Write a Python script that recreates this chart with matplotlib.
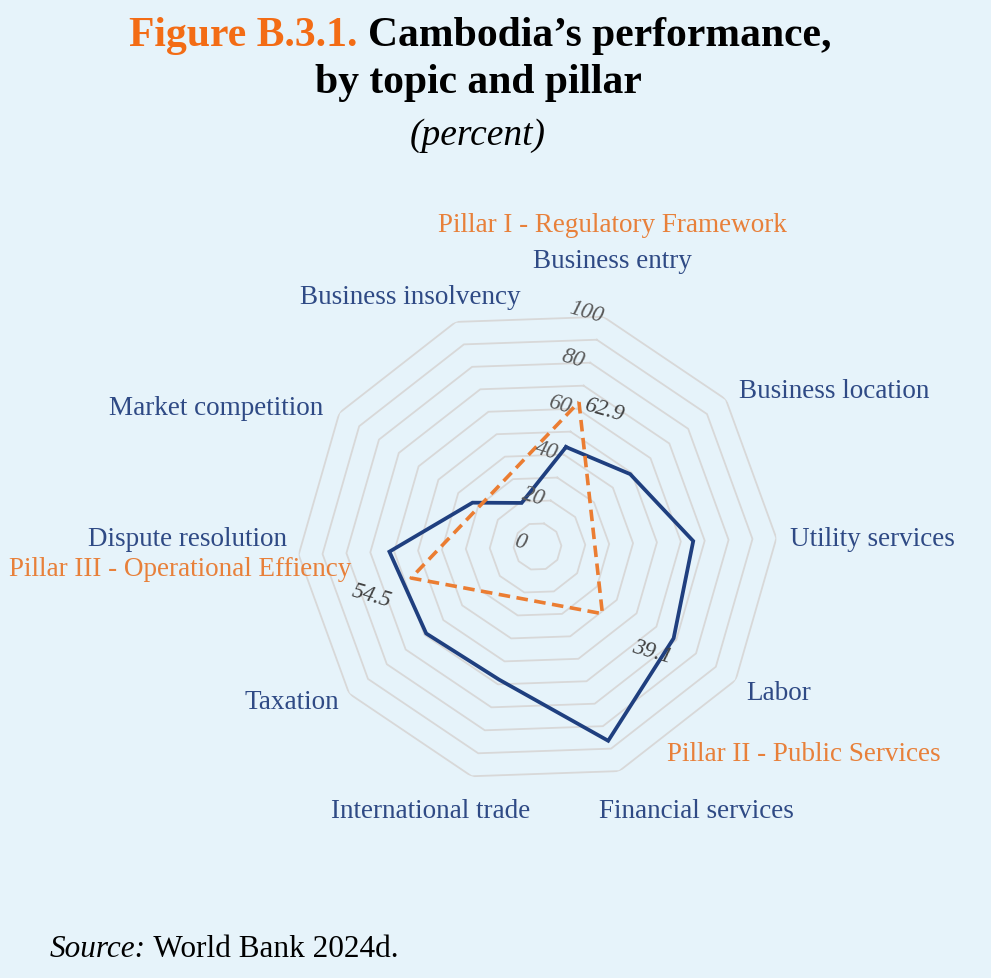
import numpy as np
import matplotlib
matplotlib.use("Agg")
import matplotlib.pyplot as plt
from matplotlib.transforms import offset_copy

# ---------------- data ----------------
topics = ["Business entry", "Business location", "Utility services", "Labor",
          "Financial services", "International trade", "Taxation",
          "Dispute resolution", "Market competition", "Business insolvency"]
topic_values = [43.3, 49.2, 65.2, 68.7, 86.5, 58.0, 59.1, 62.0, 32.8, 19.4]

pillars = ["Pillar I - Regulatory Framework", "Pillar II - Public Services",
           "Pillar III - Operational Effiency"]
pillar_values = [62.9, 39.1, 54.5]
pillar_labels = ["62.9", "39.1", "54.5"]

radial_ticks = [0, 20, 40, 60, 80, 100]
grid_levels = [10, 20, 30, 40, 50, 60, 70, 80, 90, 100]

# ---------------- style ----------------
BG = "#E6F3FA"
BLUE_LINE = "#1F3F7F"
BLUE_TXT = "#2F4A85"
ORANGE_LINE = "#EB7D32"
ORANGE_TXT = "#E8803A"
TITLE_ORANGE = "#F36C15"
GRID = "#D8D8D8"
SERIF = ["Liberation Serif", "DejaVu Serif"]

W, H = 991, 979
fig = plt.figure(figsize=(W / 100, H / 100), dpi=100, facecolor=BG)

cx, cy, R = 537.5, 547.5, 239.0
ax = fig.add_axes([(cx - R) / W, (H - cy - R) / H, 2 * R / W, 2 * R / H],
                  projection="polar")
ax.set_facecolor("none")
ax.set_theta_zero_location("N", offset=-16)
ax.set_theta_direction(-1)
ax.set_ylim(0, 100)
ax.grid(False)
ax.set_xticks([])
ax.set_yticks([])
ax.spines["polar"].set_visible(False)

n = len(topics)
th = np.linspace(0, 2 * np.pi, n, endpoint=False)
th_c = np.append(th, th[0])

for lv in grid_levels:
    ax.plot(th_c, [lv] * (n + 1), color=GRID, lw=1.3, zorder=1)

vals = np.array(topic_values)
ax.plot(th_c, np.append(vals, vals[0]), color=BLUE_LINE, lw=2.7, zorder=3,
        solid_joinstyle="miter")

m = len(pillars)
tp = np.linspace(0, 2 * np.pi, m, endpoint=False)
tp_c = np.append(tp, tp[0])
pv = np.array(pillar_values)
ax.plot(tp_c, np.append(pv, pv[0]), color=ORANGE_LINE, lw=2.6, zorder=4,
        linestyle=(0, (3.2, 1.8)))

# radial tick labels along first axis, offset to the left
tr = offset_copy(ax.transData, fig=fig, x=-17.3, y=5.0, units="dots")
for t in radial_ticks:
    ax.text(0, t, str(t), transform=tr, ha="center", va="center",
            rotation=-16, fontsize=16.5, style="italic", color="#595959",
            family=SERIF, zorder=5)

# data labels of pillar series (placed as in reference)
pl_pos = [(604, 410), (652, 652), (372, 596)]
for (px, py), lab in zip(pl_pos, pillar_labels):
    fig.text(px / W, 1 - py / H, lab, ha="center", va="center", rotation=-16,
             fontsize=16.5, style="italic", color="#404040", family=SERIF)

# category labels
topic_pos = [(612, 261), (834, 391), (872, 539), (779, 694), (696, 811),
             (431, 811), (292, 703), (187, 539), (216, 409), (410, 298)]
for (px, py), lab in zip(topic_pos, topics):
    fig.text(px / W, 1 - py / H, lab, ha="center", va="center",
             fontsize=19.5, color=BLUE_TXT, family=SERIF)

pillar_pos = [(612, 226), (804, 755), (180, 569)]
for (px, py), lab in zip(pillar_pos, pillars):
    fig.text(px / W, 1 - py / H, lab, ha="center", va="center",
             fontsize=19.5, color=ORANGE_TXT, family=SERIF)

# ---------------- title ----------------
renderer = fig.canvas.get_renderer()


def multi_text(parts, xc, y_base, **kw):
    objs = []
    for s, props in parts:
        o = fig.text(0, y_base, s, ha="left", va="baseline", **kw, **props)
        objs.append(o)
    widths = [o.get_window_extent(renderer).width for o in objs]
    total = sum(widths)
    x = xc - total / 2
    for o, w in zip(objs, widths):
        o.set_x(x / W)
        x += w


multi_text([("Figure B.3.1. ", dict(color=TITLE_ORANGE)),
            ("Cambodia’s performance,", dict(color="black"))],
           480, 1 - 46 / H, fontsize=30, weight="bold", family=SERIF)
fig.text(478 / W, 1 - 93 / H, "by topic and pillar", ha="center",
         va="baseline", fontsize=30, weight="bold", family=SERIF, color="black")
fig.text(478 / W, 1 - 136 / H, "(percent)", ha="center", va="center",
         fontsize=27, style="italic", family=SERIF, color="black")

# ---------------- source ----------------
s1 = fig.text(50 / W, 1 - 957 / H, "Source:", ha="left", va="baseline",
              fontsize=22.5, style="italic", family=SERIF, color="black")
w1 = s1.get_window_extent(renderer).width
fig.text((50 + w1) / W, 1 - 957 / H, " World Bank 2024d.", ha="left",
         va="baseline", fontsize=22.5, family=SERIF, color="black")

fig.savefig("out.png", dpi=100, facecolor=BG)
